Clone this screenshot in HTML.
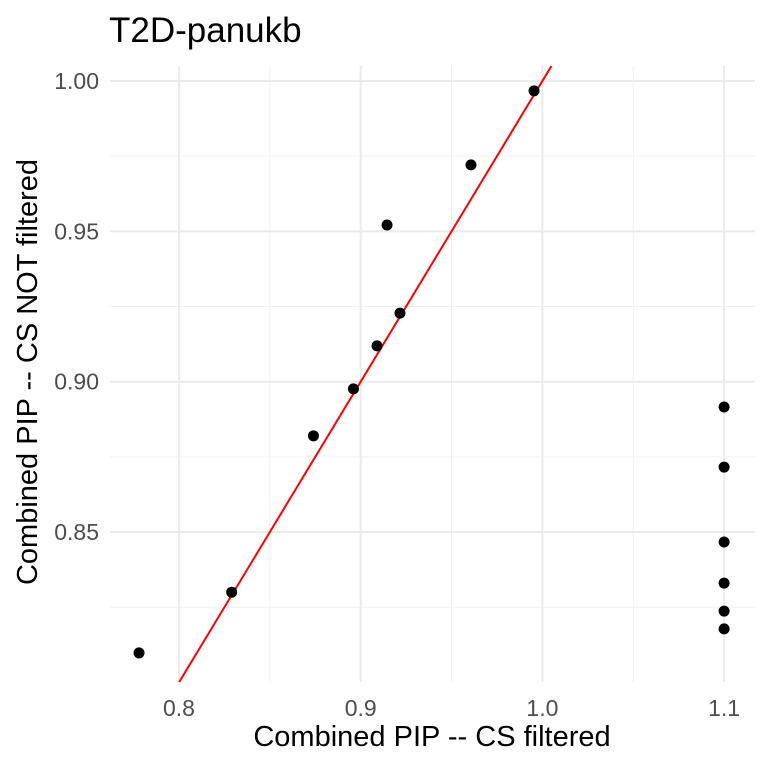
<!DOCTYPE html>
<html><head><meta charset="utf-8"><style>
body{margin:0;background:#fff;font-family:"Liberation Sans",sans-serif;}
svg text{font-family:"Liberation Sans",sans-serif;}
</style></head><body>
<svg id="chart" width="768" height="768" viewBox="0 0 768 768">
<rect width="768" height="768" fill="#fff"/>
<text x="109" y="42" font-size="35" fill="#000">T2D-panukb</text>
<g id="grid"></g>
<g id="ticks"></g>
<g id="marks"></g>
<text x="432" y="746" font-size="29" text-anchor="middle" fill="#000">Combined PIP -- CS filtered</text>
<text transform="translate(37,372) rotate(-90)" font-size="29" text-anchor="middle" fill="#000">Combined PIP -- CS NOT filtered</text>
</svg>
<script>
const xVals=[0.778,0.829,0.874,0.896,0.909,0.9145,0.9216,0.9607,0.9954,1.1,1.1,1.1,1.1,1.1,1.1];
const yVals=[0.8098,0.830,0.882,0.8976,0.9119,0.9521,0.9228,0.9721,0.9967,0.8916,0.8716,0.8467,0.833,0.8237,0.8178];
const xTicks=[0.8,0.9,1.0,1.1];
const xTickLabels=["0.8","0.9","1.0","1.1"];
const yTicks=[0.85,0.90,0.95,1.00];
const yTickLabels=["0.85","0.90","0.95","1.00"];
const xMinor=[0.85,0.95,1.05];
const yMinor=[0.825,0.875,0.925,0.975];
const L=110,R=755,T=66,B=682;
const x=v=>179+(v-0.8)*1817;
const y=v=>81+(1-v)*3007;
const NS="http://www.w3.org/2000/svg";
function mk(tag,attrs,parent){const e=document.createElementNS(NS,tag);for(const k in attrs)e.setAttribute(k,attrs[k]);document.getElementById(parent).appendChild(e);return e;}
xMinor.forEach(v=>{const e=mk('line',{x1:x(v),x2:x(v),y1:T,y2:B,stroke:'#f0f0f0','stroke-width':1},'grid');

});
yMinor.forEach(v=>{const e=mk('line',{x1:L,x2:R,y1:y(v),y2:y(v),stroke:'#f0f0f0','stroke-width':1},'grid');

});
xTicks.forEach((v,i)=>{const e=mk('line',{x1:x(v),x2:x(v),y1:T,y2:B,stroke:'#ebebeb','stroke-width':2},'grid');


const t=mk('text',{x:x(v),y:716,'font-size':23,'text-anchor':'middle',fill:'#4d4d4d'},'ticks');t.textContent=xTickLabels[i];

});
yTicks.forEach((v,i)=>{const e=mk('line',{x1:L,x2:R,y1:y(v),y2:y(v),stroke:'#ebebeb','stroke-width':2},'grid');


const t=mk('text',{x:99,y:y(v)+8,'font-size':23,'text-anchor':'end',fill:'#4d4d4d'},'ticks');t.textContent=yTickLabels[i];

});
const lo=Math.max(0.8,1-(B-81)/3007), hi=1+(81-T)/3007;
const ln=mk('line',{x1:x(lo),y1:y(lo),x2:x(hi),y2:y(hi),stroke:'#ff0000','stroke-width':2},'marks');


xVals.forEach((v,i)=>{const c=mk('circle',{cx:x(v),cy:y(yVals[i]),r:5.5,fill:'#000'},'marks');

});
</script>
</body></html>
